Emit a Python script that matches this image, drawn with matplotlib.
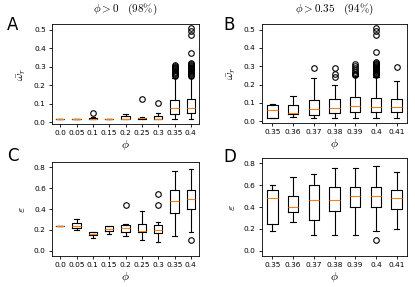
import matplotlib
matplotlib.use("Agg")
import matplotlib.pyplot as plt

plt.rcParams['mathtext.fontset'] = 'cm'

# box statistics: (whislo, q1, med, q3, whishi, fliers)
phi_all = ['0.0', '0.05', '0.1', '0.15', '0.2', '0.25', '0.3', '0.35', '0.4']
phi_fine = ['0.35', '0.36', '0.37', '0.38', '0.39', '0.4', '0.41']

fl_035 = [0.25, 0.255, 0.26, 0.265, 0.27, 0.28, 0.285, 0.29, 0.295, 0.30, 0.305, 0.31]
fl_04 = [0.25, 0.255, 0.26, 0.265, 0.27, 0.275, 0.28, 0.285, 0.29, 0.295, 0.30,
         0.305, 0.31, 0.315, 0.32, 0.375, 0.47, 0.49, 0.51]
fl_039 = [0.25, 0.255, 0.26, 0.27, 0.28, 0.29, 0.30, 0.31]

omega_all = [
    (0.015, 0.015, 0.015, 0.015, 0.015, []),
    (0.015, 0.015, 0.015, 0.015, 0.015, []),
    (0.015, 0.015, 0.018, 0.025, 0.03, [0.05]),
    (0.015, 0.015, 0.015, 0.015, 0.015, []),
    (0.015, 0.015, 0.018, 0.035, 0.045, []),
    (0.015, 0.015, 0.02, 0.025, 0.027, [0.125]),
    (0.015, 0.015, 0.018, 0.035, 0.05, [0.105]),
    (0.015, 0.045, 0.075, 0.12, 0.24, fl_035),
    (0.015, 0.05, 0.078, 0.125, 0.24, fl_04),
]
omega_fine = [
    (0.015, 0.015, 0.06, 0.09, 0.095, []),
    (0.02, 0.04, 0.045, 0.09, 0.135, []),
    (0.015, 0.035, 0.065, 0.115, 0.235, [0.29]),
    (0.015, 0.045, 0.07, 0.12, 0.195, [0.24, 0.26, 0.29]),
    (0.015, 0.05, 0.08, 0.13, 0.245, fl_039),
    (0.015, 0.05, 0.078, 0.125, 0.24, fl_04),
    (0.015, 0.05, 0.075, 0.12, 0.22, [0.295]),
]
eps_all = [
    (0.24, 0.24, 0.24, 0.24, 0.24, []),
    (0.20, 0.22, 0.24, 0.27, 0.30, []),
    (0.12, 0.15, 0.165, 0.18, 0.18, []),
    (0.16, 0.19, 0.21, 0.235, 0.24, []),
    (0.14, 0.18, 0.22, 0.25, 0.26, [0.44]),
    (0.10, 0.18, 0.19, 0.26, 0.38, []),
    (0.08, 0.17, 0.20, 0.25, 0.28, [0.44, 0.54]),
    (0.14, 0.36, 0.48, 0.58, 0.76, []),
    (0.18, 0.40, 0.50, 0.58, 0.78, [0.10]),
]
eps_fine = [
    (0.18, 0.24, 0.48, 0.56, 0.60, []),
    (0.26, 0.35, 0.40, 0.50, 0.68, []),
    (0.14, 0.28, 0.46, 0.60, 0.70, []),
    (0.14, 0.36, 0.46, 0.58, 0.76, []),
    (0.14, 0.40, 0.50, 0.58, 0.76, []),
    (0.18, 0.40, 0.50, 0.58, 0.78, [0.10]),
    (0.20, 0.38, 0.48, 0.56, 0.72, []),
]


def to_stats(rows, labels):
    out = []
    for (lo, q1, med, q3, hi, fl), lab in zip(rows, labels):
        out.append(dict(whislo=lo, q1=q1, med=med, q3=q3, whishi=hi,
                        fliers=fl, label=lab))
    return out


fig = plt.figure(figsize=(4.15, 2.87), dpi=100)
W, H = 415.0, 287.0
# axes box in pixels (left, top, right, bottom) and panel letter position
boxes = {
    'A': ((52, 24, 199, 124), (7, 25)),
    'B': ((262, 24, 407, 123), (223, 25)),
    'C': ((52, 162, 199, 256), (7, 156)),
    'D': ((262, 158, 407, 256), (223, 157)),
}
panels = {
    'A': (omega_all, phi_all, r'$\bar{\omega}_r$', [0, 0.1, 0.2, 0.3, 0.4, 0.5]),
    'B': (omega_fine, phi_fine, r'$\bar{\omega}_r$', [0, 0.1, 0.2, 0.3, 0.4, 0.5]),
    'C': (eps_all, phi_all, r'$\varepsilon$', [0, 0.2, 0.4, 0.6, 0.8]),
    'D': (eps_fine, phi_fine, r'$\varepsilon$', [0, 0.2, 0.4, 0.6, 0.8]),
}

for key, ((l, t, r, b), (lx, ly)) in boxes.items():
    ax = fig.add_axes([l / W, 1 - b / H, (r - l) / W, (b - t) / H])
    rows, labels, ylab, yt = panels[key]
    ax.bxp(to_stats(rows, labels), showfliers=True,
           flierprops=dict(marker='o', markersize=4, markerfacecolor='none',
                           markeredgecolor='black', markeredgewidth=0.8),
           boxprops=dict(linewidth=0.8), whiskerprops=dict(linewidth=0.8),
           capprops=dict(linewidth=0.8),
           medianprops=dict(color='#ff7f0e', linewidth=0.8))
    ax.set_yticks(yt)
    ax.set_yticklabels([f'{v:.1f}' for v in yt])
    ax.tick_params(labelsize=5.3, length=2.5, width=0.6, pad=2)
    for s in ax.spines.values():
        s.set_linewidth(0.6)
    ax.set_xlabel(r'$\phi$', fontsize=8.5, labelpad=1)
    ax.set_ylabel(ylab, fontsize=8.5, labelpad=4)
    if key in 'AB':
        ax.set_ylim(-0.01, 0.53)
    else:
        ax.set_ylim(-0.05, 0.85)
    fig.text(lx / W, 1 - ly / H, key, fontsize=12, va='center')

fig.text(125 / W, 1 - 9 / H, r'$\phi > 0 \quad (98\%)$', fontsize=8, ha='center', va='center')
fig.text(334 / W, 1 - 9 / H, r'$\phi > 0.35 \quad (94\%)$', fontsize=8, ha='center', va='center')

fig.savefig('out.png', dpi=100)
